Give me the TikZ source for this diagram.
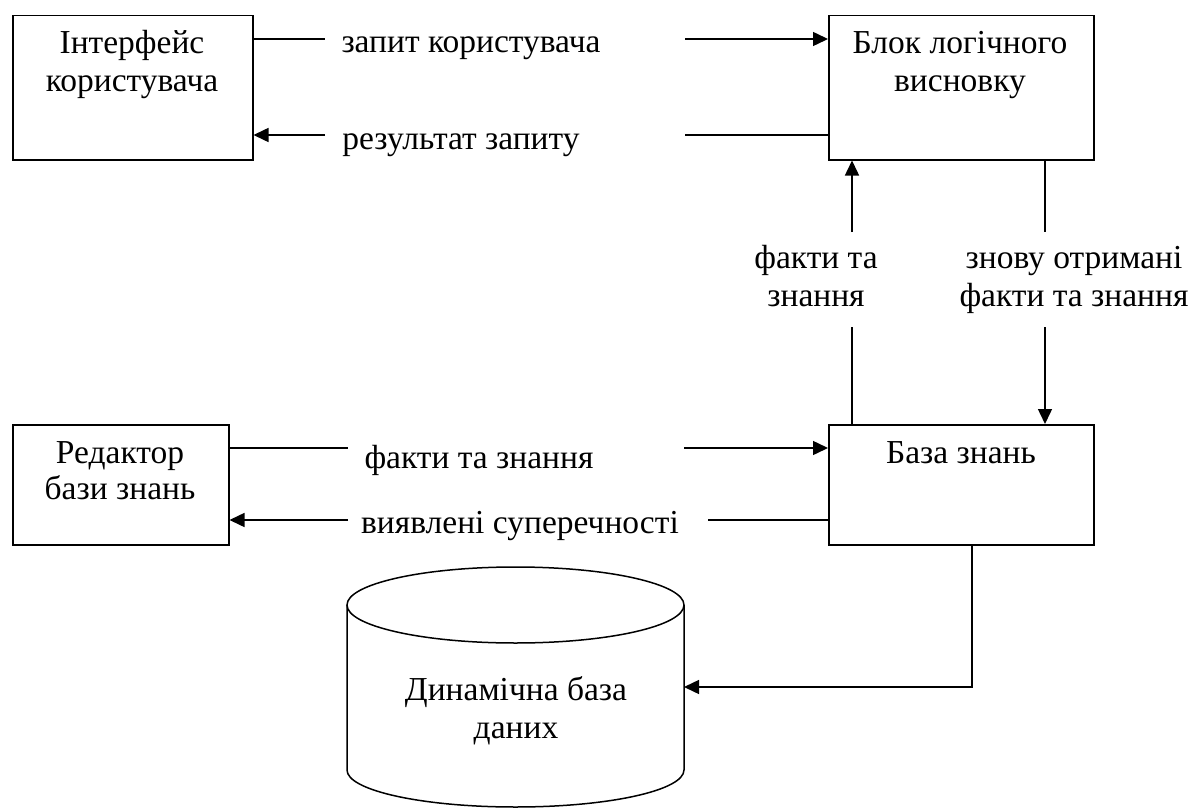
\documentclass[tikz,border=0pt]{standalone}
\usepackage{fontspec}
\setmainfont{Liberation Serif}
\usetikzlibrary{arrows.meta,calc}
\begin{document}
\begin{tikzpicture}[x=1bp,y=-1bp,
  box/.style={draw,line width=1.5bp,anchor=north west,inner sep=0pt},
  txt/.style={font=\fontsize{33.5bp}{38bp}\selectfont,align=center,inner sep=0pt,anchor=base},
  conn/.style={line width=1.5bp},
  arr/.style={line width=1.5bp,-{Triangle[length=15bp,width=14bp]}}]
\useasboundingbox (0,0) rectangle (1194,810);
% boxes
\node[box,minimum width=240bp,minimum height=144bp] (ui) at (12,15) {};
\node[box,minimum width=265bp,minimum height=144bp] (bl) at (828,15) {};
\node[box,minimum width=216bp,minimum height=120bp] (ed) at (12,424) {};
\node[box,minimum width=265bp,minimum height=120bp] (kb) at (828,424) {};
% box texts (anchor=base is the baseline of the last line)
\node[txt] (uit) at (132,92) {Інтерфейс\\користувача};
\node[txt] (blt) at (960,92) {Блок логічного\\висновку};
\node[txt,font=\fontsize{33.5bp}{36bp}\selectfont] (edt) at (120,499) {Редактор\\бази знань};
\node[txt] (kbt) at (961,463) {База знань};
% cylinder
\draw[conn] (347,605) -- (347,770) arc[start angle=180,end angle=0,x radius=168.5,y radius=37] -- (684,605);
\draw[conn] (515.5,605) ellipse[x radius=168.5,y radius=38];
\node[txt] (db) at (516,738) {Динамічна база\\даних};
% labels
\node[txt] (l1) at (471,53) {запит користувача};
\node[txt] (l2) at (461,149) {результат запиту};
\node[txt] (l3) at (479,468) {факти та знання};
\node[txt] (l4) at (520,533) {виявлені суперечності};
\node[txt] (l5) at (816,306) {факти та\\знання};
\node[txt] (l6) at (1074,306) {знову отримані\\факти та знання};
% connector coordinates
\coordinate (q1) at (325,39);  \coordinate (q2) at (685,39);
\coordinate (r1) at (685,135); \coordinate (r2) at (325,135);
\coordinate (f1) at (348,448); \coordinate (f2) at (684,448);
\coordinate (v1) at (708,520); \coordinate (v2) at (348,520);
\coordinate (u1) at (852,327); \coordinate (u2) at (852,232);
\coordinate (d1) at (1045,232); \coordinate (d2) at (1045,327);
\coordinate (kbx) at (972,544);
\coordinate (dbr) at (684,687);
% connectors
\draw[conn] (q1 -| ui.east) -- (q1);
\draw[arr] (q2) -- (q2 -| bl.west);
\draw[conn] (r1 -| bl.west) -- (r1);
\draw[arr] (r2) -- (r2 -| ui.east);
\draw[conn] (f1 -| ed.east) -- (f1);
\draw[arr] (f2) -- (f2 -| kb.west);
\draw[conn] (v1 -| kb.west) -- (v1);
\draw[arr] (v2) -- (v2 -| ed.east);
\draw[conn] (u1 |- kb.north) -- (u1);
\draw[arr] (u2) -- (u2 |- bl.south);
\draw[conn] (d1 |- bl.south) -- (d1);
\draw[arr] (d2) -- (d2 |- kb.north);
\draw[arr] (kbx |- kb.south) |- (dbr);
\end{tikzpicture}
\end{document}
